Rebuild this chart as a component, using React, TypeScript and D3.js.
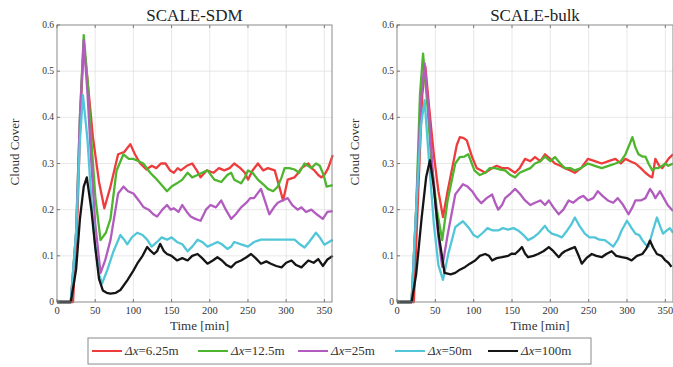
import React from "react";
import * as d3 from "d3";

type Pt = [number, number];

const panelTitles = ["SCALE-SDM", "SCALE-bulk"];
const legendLabels = ["6.25m", "12.5m", "25m", "50m", "100m"];
const seriesColors = ["#ee3b3b", "#4db52e", "#b15cbe", "#52c6d9", "#151515"];
const xTicks = [0, 50, 100, 150, 200, 250, 300, 350];
const yTicks = [0, 0.1, 0.2, 0.3, 0.4, 0.5, 0.6];
const yTickLabels = ["0", "0.1", "0.2", "0.3", "0.4", "0.5", "0.6"];

const sdmDx6_25: Pt[] = [[0,0],[21,0],[27,0.2],[31,0.42],[35,0.555],[40,0.48],[47,0.357],[55,0.26],[62,0.203],[70,0.25],[80,0.32],[88,0.325],[96,0.342],[102,0.32],[109,0.30],[117,0.287],[124,0.295],[130,0.29],[136,0.30],[142,0.30],[148,0.285],[153,0.28],[158,0.29],[162,0.285],[170,0.295],[177,0.30],[183,0.285],[188,0.27],[196,0.285],[205,0.28],[212,0.29],[219,0.285],[226,0.29],[232,0.30],[240,0.29],[246,0.28],[250,0.265],[256,0.285],[263,0.30],[270,0.285],[276,0.29],[285,0.285],[291,0.25],[296,0.22],[302,0.265],[311,0.27],[316,0.28],[320,0.29],[329,0.30],[333,0.29],[337,0.285],[342,0.275],[346,0.27],[350,0.275],[355,0.29],[361,0.318]];
const sdmDx12_5: Pt[] = [[0,0],[18,0],[25,0.15],[30,0.4],[35,0.578],[40,0.48],[45,0.35],[50,0.23],[57,0.134],[64,0.15],[70,0.18],[78,0.285],[87,0.32],[94,0.31],[100,0.31],[107,0.305],[113,0.30],[122,0.28],[128,0.27],[135,0.257],[144,0.24],[150,0.25],[157,0.257],[164,0.265],[171,0.28],[177,0.27],[184,0.275],[190,0.28],[197,0.285],[206,0.265],[215,0.26],[223,0.275],[228,0.28],[232,0.265],[241,0.257],[246,0.27],[250,0.285],[256,0.28],[263,0.265],[270,0.255],[276,0.245],[283,0.24],[289,0.25],[294,0.27],[298,0.29],[304,0.29],[311,0.287],[317,0.28],[324,0.30],[333,0.29],[339,0.3],[344,0.295],[349,0.275],[353,0.25],[361,0.253]];
const sdmDx25: Pt[] = [[0,0],[18,0],[25,0.15],[30,0.4],[35,0.567],[40,0.45],[45,0.30],[50,0.17],[57,0.063],[63,0.09],[70,0.134],[80,0.235],[87,0.25],[93,0.24],[100,0.235],[107,0.22],[113,0.206],[120,0.2],[126,0.19],[131,0.185],[138,0.2],[144,0.21],[149,0.2],[153,0.203],[159,0.195],[164,0.21],[170,0.195],[175,0.185],[181,0.18],[188,0.176],[195,0.2],[201,0.21],[208,0.205],[215,0.22],[221,0.2],[228,0.18],[234,0.19],[241,0.205],[248,0.215],[253,0.225],[258,0.225],[267,0.245],[272,0.22],[278,0.19],[284,0.205],[289,0.215],[295,0.22],[302,0.225],[308,0.21],[315,0.20],[320,0.205],[326,0.195],[333,0.20],[340,0.19],[348,0.18],[354,0.195],[361,0.197]];
const sdmDx50: Pt[] = [[0,0],[18,0],[25,0.15],[30,0.35],[34,0.448],[40,0.35],[45,0.22],[50,0.12],[55,0.06],[59,0.04],[66,0.07],[74,0.11],[83,0.145],[88,0.135],[92,0.125],[98,0.14],[105,0.15],[112,0.145],[118,0.135],[124,0.12],[131,0.13],[137,0.14],[144,0.135],[150,0.14],[157,0.13],[164,0.125],[171,0.11],[177,0.12],[184,0.135],[190,0.13],[197,0.12],[204,0.125],[210,0.13],[216,0.125],[223,0.115],[228,0.12],[232,0.13],[241,0.125],[250,0.12],[258,0.13],[267,0.135],[278,0.135],[289,0.135],[300,0.135],[311,0.135],[318,0.125],[324,0.118],[330,0.13],[339,0.15],[344,0.14],[350,0.124],[356,0.13],[361,0.135]];
const sdmDx100: Pt[] = [[0,0],[18,0],[25,0.07],[30,0.18],[35,0.25],[39,0.27],[45,0.2],[50,0.12],[55,0.05],[60,0.025],[65,0.02],[70,0.018],[77,0.02],[83,0.026],[92,0.047],[100,0.068],[105,0.083],[112,0.1],[118,0.119],[123,0.11],[127,0.104],[131,0.11],[135,0.126],[140,0.11],[144,0.104],[150,0.1],[157,0.09],[164,0.095],[171,0.09],[177,0.1],[184,0.104],[190,0.095],[197,0.083],[204,0.09],[210,0.097],[216,0.09],[222,0.08],[228,0.075],[234,0.085],[241,0.09],[248,0.097],[254,0.104],[260,0.095],[267,0.083],[274,0.088],[280,0.083],[287,0.078],[294,0.075],[300,0.085],[307,0.09],[313,0.08],[320,0.075],[329,0.09],[336,0.085],[342,0.093],[348,0.078],[354,0.092],[361,0.1]];

const bulkDx6_25: Pt[] = [[0,0],[22,0],[28,0.25],[33,0.45],[37,0.51],[42,0.42],[48,0.32],[54,0.24],[60,0.184],[66,0.24],[72,0.29],[78,0.34],[82,0.357],[87,0.355],[91,0.35],[98,0.314],[104,0.29],[110,0.285],[115,0.28],[124,0.29],[130,0.295],[137,0.29],[145,0.29],[154,0.28],[160,0.29],[167,0.31],[174,0.305],[180,0.314],[187,0.305],[193,0.32],[200,0.31],[206,0.30],[213,0.295],[219,0.29],[226,0.285],[232,0.28],[240,0.29],[249,0.31],[258,0.305],[267,0.30],[276,0.305],[285,0.31],[292,0.30],[298,0.31],[304,0.305],[311,0.30],[318,0.29],[324,0.28],[330,0.272],[333,0.27],[337,0.31],[342,0.295],[346,0.29],[350,0.30],[354,0.31],[360,0.32]];
const bulkDx12_5: Pt[] = [[0,0],[19,0],[25,0.2],[30,0.45],[34,0.538],[40,0.42],[45,0.3],[52,0.2],[59,0.134],[66,0.22],[76,0.30],[82,0.314],[88,0.315],[93,0.32],[101,0.285],[108,0.275],[115,0.28],[121,0.29],[128,0.29],[134,0.287],[141,0.285],[148,0.275],[154,0.27],[160,0.28],[167,0.285],[174,0.29],[180,0.30],[187,0.305],[193,0.315],[200,0.305],[206,0.314],[213,0.30],[219,0.29],[226,0.29],[232,0.285],[240,0.29],[249,0.30],[258,0.295],[267,0.29],[276,0.295],[285,0.30],[292,0.305],[298,0.32],[303,0.34],[307,0.357],[311,0.335],[315,0.32],[320,0.315],[324,0.315],[328,0.30],[333,0.285],[337,0.29],[341,0.29],[346,0.295],[350,0.30],[354,0.295],[360,0.30]];
const bulkDx25: Pt[] = [[0,0],[19,0],[25,0.2],[31,0.43],[36,0.517],[42,0.4],[48,0.25],[54,0.14],[59,0.076],[66,0.145],[76,0.233],[86,0.255],[92,0.25],[98,0.24],[104,0.225],[110,0.214],[117,0.225],[124,0.233],[128,0.215],[132,0.20],[137,0.21],[141,0.225],[148,0.235],[154,0.245],[160,0.235],[167,0.22],[174,0.21],[180,0.215],[187,0.22],[193,0.21],[198,0.22],[204,0.205],[211,0.19],[217,0.2],[224,0.22],[230,0.215],[237,0.225],[243,0.23],[249,0.22],[256,0.225],[262,0.24],[268,0.23],[275,0.22],[282,0.215],[288,0.225],[295,0.21],[302,0.19],[307,0.205],[311,0.22],[318,0.22],[324,0.225],[330,0.245],[334,0.235],[337,0.225],[343,0.24],[348,0.225],[353,0.21],[360,0.197]];
const bulkDx50: Pt[] = [[0,0],[19,0],[25,0.2],[31,0.38],[36,0.437],[42,0.3],[48,0.17],[54,0.08],[60,0.048],[67,0.105],[76,0.162],[82,0.17],[86,0.175],[94,0.16],[100,0.145],[105,0.14],[112,0.15],[118,0.16],[125,0.155],[132,0.155],[138,0.16],[145,0.157],[152,0.16],[158,0.155],[165,0.145],[171,0.134],[178,0.14],[184,0.148],[193,0.165],[197,0.155],[202,0.148],[208,0.145],[215,0.14],[222,0.155],[228,0.17],[232,0.183],[238,0.165],[245,0.148],[251,0.14],[258,0.14],[264,0.135],[271,0.134],[276,0.128],[282,0.12],[288,0.135],[293,0.155],[300,0.176],[306,0.16],[311,0.148],[316,0.145],[320,0.134],[324,0.125],[328,0.12],[333,0.15],[339,0.183],[343,0.165],[347,0.148],[352,0.155],[356,0.16],[360,0.15]];
const bulkDx100: Pt[] = [[0,0],[19,0],[25,0.06],[32,0.18],[38,0.27],[43,0.307],[48,0.25],[54,0.15],[62,0.063],[70,0.06],[76,0.063],[82,0.07],[89,0.076],[95,0.083],[102,0.09],[108,0.1],[115,0.104],[120,0.1],[124,0.09],[130,0.095],[137,0.097],[145,0.1],[150,0.105],[154,0.104],[158,0.11],[163,0.119],[167,0.105],[171,0.097],[178,0.1],[184,0.104],[191,0.11],[198,0.119],[204,0.11],[211,0.097],[215,0.105],[219,0.11],[226,0.115],[232,0.119],[237,0.1],[241,0.083],[247,0.095],[254,0.104],[260,0.1],[267,0.097],[273,0.104],[280,0.11],[286,0.1],[293,0.097],[300,0.095],[306,0.09],[313,0.1],[320,0.104],[325,0.115],[330,0.133],[334,0.118],[339,0.104],[345,0.1],[350,0.09],[354,0.085],[358,0.076]];

const panelSeries: Pt[][][] = [
  [sdmDx6_25, sdmDx12_5, sdmDx25, sdmDx50, sdmDx100],
  [bulkDx6_25, bulkDx12_5, bulkDx25, bulkDx50, bulkDx100],
];

const W = 673;
const H = 367;
const FONT = "Liberation Serif, Times New Roman, Times, serif";
const panelX: [number, number][] = [[57, 332], [397, 673]];
const yTop = 25;
const yBottom = 302;
const txt = { fontFamily: FONT };

function Panel({ idx }: { idx: number }) {
  const [x0, x1] = panelX[idx];
  const x = d3.scaleLinear().domain([0, 360]).range([x0, x1]);
  const y = d3.scaleLinear().domain([0, 0.6]).range([yBottom, yTop]);
  const line = d3.line<Pt>().x((d) => x(d[0])).y((d) => y(d[1]));
  const cx = (x0 + x1) / 2;
  return (
    <g>
      <rect x={x0} y={yTop} width={x1 - x0} height={yBottom - yTop} fill="#fff" />
      {xTicks.slice(1).map((t) => (
        <line key={"gx" + t} x1={x(t)} x2={x(t)} y1={yTop} y2={yBottom} stroke="#e2e2e2" strokeWidth={0.8} />
      ))}
      {yTicks.slice(1, -1).map((t) => (
        <line key={"gy" + t} x1={x0} x2={x1} y1={y(t)} y2={y(t)} stroke="#e2e2e2" strokeWidth={0.8} />
      ))}
      {panelSeries[idx].map((s, i) => (
        <path key={i} d={line(s) || ""} fill="none" stroke={seriesColors[i]} strokeWidth={2.3} strokeLinejoin="round" />
      ))}
      <rect x={x0} y={yTop} width={x1 - x0} height={yBottom - yTop} fill="none" stroke="#8a8a8a" strokeWidth={1} />
      {xTicks.map((t) => (
        <g key={"xt" + t}>
          <line x1={x(t)} x2={x(t)} y1={yBottom} y2={yBottom - 3} stroke="#777" />
          <line x1={x(t)} x2={x(t)} y1={yTop} y2={yTop + 3} stroke="#777" />
          <text x={x(t)} y={yBottom + 12} fontSize={10.5} textAnchor="middle" style={txt} fill="#333">{t}</text>
        </g>
      ))}
      {yTicks.map((t, i) => (
        <g key={"yt" + t}>
          <line x1={x0} x2={x0 + 3} y1={y(t)} y2={y(t)} stroke="#777" />
          <text x={x0 - 3} y={y(t) + 3} fontSize={9.5} textAnchor="end" style={txt} fill="#333">{yTickLabels[i]}</text>
        </g>
      ))}
      <text x={cx} y={21} fontSize={17} textAnchor="middle" style={txt} fill="#222">{panelTitles[idx]}</text>
      <text x={cx + 5} y={330} fontSize={13} textAnchor="middle" style={txt} fill="#333">Time [min]</text>
      <text transform={`translate(${x0 - 38},152) rotate(-90)`} fontSize={13} textAnchor="middle" style={txt} fill="#333">Cloud Cover</text>
    </g>
  );
}

export default function App() {
  const legX = [92, 198, 298, 395, 488];
  return (
    <svg width={W} height={H} style={{ position: "absolute", left: 0, top: 0, background: "#fff" }}>
      <rect width={W} height={H} fill="#fff" />
      <Panel idx={0} />
      <Panel idx={1} />
      <rect x={88} y={338} width={503} height={26} fill="#fff" stroke="#8a8a8a" strokeWidth={1} />
      {legendLabels.map((lab, i) => (
        <g key={lab}>
          <line x1={legX[i]} x2={legX[i] + 30} y1={351} y2={351} stroke={seriesColors[i]} strokeWidth={2} />
          <text x={legX[i] + 33} y={355} fontSize={13} style={txt} fill="#333">
            <tspan fontStyle="italic">Δx</tspan>={lab}
          </text>
        </g>
      ))}
    </svg>
  );
}
